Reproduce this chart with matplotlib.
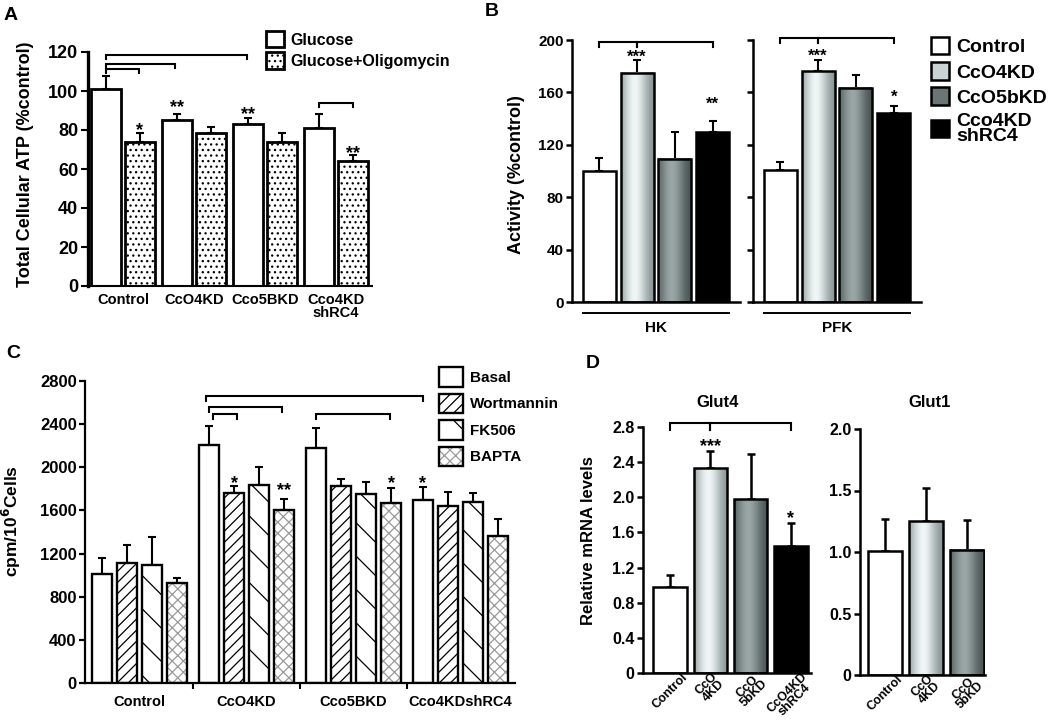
import numpy as np
import matplotlib
matplotlib.use('Agg')
import matplotlib.pyplot as plt
import matplotlib.transforms as mtransforms
from matplotlib.patches import Patch
from matplotlib.colors import LinearSegmentedColormap

plt.rcParams['font.family'] = ['Liberation Sans', 'DejaVu Sans']
plt.rcParams['font.weight'] = 'bold'
plt.rcParams['axes.labelweight'] = 'bold'
plt.rcParams['hatch.linewidth'] = 0.9

# --- A: total cellular ATP
a_groups = ['Control', 'CcO4KD', 'Cco5BKD', 'Cco4KD\nshRC4']
a_glucose = [101, 85, 83, 81]
a_glucose_err = [6.5, 3, 3, 7]
a_oligo = [74, 78.5, 74, 64]
a_oligo_err = [4.5, 3, 4.5, 3]

# --- B: HK / PFK activity
b_labels = ['Control', 'CcO4KD', 'CcO5bKD', 'Cco4KD\nshRC4']
b_hk = [100, 175, 109.5, 130]
b_hk_err = [10, 10, 20, 8.5]
b_pfk = [101, 176, 163.5, 144]
b_pfk_err = [5.5, 9, 10, 6]

# --- C: glucose uptake
c_groups = ['Control', 'CcO4KD', 'Cco5BKD', 'Cco4KDshRC4']
c_treat = ['Basal', 'Wortmannin', 'FK506', 'BAPTA']
c_basal = [1008, 2211, 2183, 1696]
c_basal_err = [148, 176, 179, 124]
c_wort = [1110, 1758, 1829, 1641]
c_wort_err = [170, 68, 61, 132]
c_fk506 = [1095, 1835, 1752, 1681]
c_fk506_err = [259, 170, 114, 77]
c_bapta = [925, 1604, 1665, 1363]
c_bapta_err = [46, 98, 145, 157]

# --- D: mRNA
d_glut4_labels = ['Control', 'CcO\n4KD', 'CcO\n5bKD', 'CcO4KD\nshRC4']
d_glut4 = [0.98, 2.33, 1.98, 1.45]
d_glut4_err = [0.13, 0.20, 0.51, 0.26]
d_glut1_labels = ['Control', 'CcO\n4KD', 'CcO\n5bKD']
d_glut1 = [1.01, 1.25, 1.02]
d_glut1_err = [0.26, 0.27, 0.24]

W, H = 1050, 722
fig = plt.figure(figsize=(W / 100, H / 100), dpi=100)


def panel(left, top, right, bottom):
    return fig.add_axes([left / W, 1 - bottom / H, (right - left) / W, (bottom - top) / H])


def style(ax, lw=1.6, lw_left=None):
    for s in ['top', 'right']:
        ax.spines[s].set_visible(False)
    ax.spines['bottom'].set_linewidth(lw)
    ax.spines['left'].set_linewidth(lw_left or lw)
    ax.tick_params(axis='y', direction='out', length=4, width=lw)
    ax.tick_params(axis='x', length=0)
    ax.patch.set_visible(False)


def errs(ax, x, vals, up, lw=1.5, cap=3):
    ax.errorbar(x, vals, yerr=[np.zeros(len(vals)), up], fmt='none', ecolor='k',
                elinewidth=lw, capsize=cap, capthick=lw, zorder=1)


def bracket(ax, x0, x1, y, h, lw=1.5):
    ax.plot([x0, x0, x1, x1], [y - h, y, y, y - h], color='k', lw=lw,
            clip_on=False, solid_joinstyle='miter', zorder=3)


def stars(ax, x, y, s, fs=13):
    ax.annotate(s, (x, y), xytext=(0, -0.6 * fs), textcoords='offset points',
                ha='center', va='baseline', fontsize=fs, fontweight='bold',
                annotation_clip=False)


light = LinearSegmentedColormap.from_list('light', ['#7f8c8c', '#f0f5f5'])
dark = LinearSegmentedColormap.from_list('dark', ['#424c4c', '#9aa6a6'])
prof = np.exp(-((np.linspace(0, 1, 64) - 0.42) / 0.38) ** 2)[None, :]


def shade(ax, bar, cmap):
    x0, w, h = bar.get_x(), bar.get_width(), bar.get_height()
    ax.imshow(prof, extent=(x0, x0 + w, 0, h), cmap=cmap, vmin=0, vmax=1,
              aspect='auto', interpolation='bilinear', zorder=1.5)


def grey_bars(ax, x, vals, width, lw):
    faces = ['white', 'none', 'none', 'black'][:len(vals)]
    bars = ax.bar(x, vals, width, color=faces, edgecolor='k', lw=lw, zorder=2)
    shade(ax, bars[1], light)
    shade(ax, bars[2], dark)
    return bars


# ================= A
axA = panel(88, 52, 372, 286)
style(axA, lw=1.5, lw_left=2.4)
xa = np.arange(len(a_groups))
gl = axA.bar(xa - 0.236, a_glucose, 0.425, color='white', edgecolor='k', lw=2.0,
             label='Glucose', zorder=2)
ol = axA.bar(xa + 0.236, a_oligo, 0.425, color='white', edgecolor='k', lw=2.0,
             hatch='...', label='Glucose+Oligomycin', zorder=2)
errs(axA, xa - 0.236, a_glucose, a_glucose_err)
errs(axA, xa + 0.236, a_oligo, a_oligo_err)
bracket(axA, -0.236, 1.745, 118.6, 2.2)
bracket(axA, -0.236, 0.73, 113.8, 2.2)
bracket(axA, -0.236, 0.226, 111.4, 2.2)
bracket(axA, 2.764, 3.236, 93.8, 2.2)
stars(axA, 0.236, 83, '*')
stars(axA, 0.764, 94.6, '**')
stars(axA, 1.764, 91.2, '**')
stars(axA, 3.236, 71, '**')
axA.set_xticks(xa, a_groups, fontsize=10.5, linespacing=0.9)
axA.tick_params(axis='x', pad=5)
axA.set_yticks(np.arange(0, 121, 20))
axA.tick_params(axis='y', labelsize=13, pad=2, length=5)
axA.set_ylabel('Total Cellular ATP (%control)', fontsize=13)
axA.yaxis.set_label_coords(-0.19, 0.52)
axA.set_xlim(-0.495, 3.51)
axA.set_ylim(0, 120)
axA.legend(handles=[gl, ol], loc='upper left', bbox_to_anchor=(266 / W, 1 - 31 / H),
           bbox_transform=fig.transFigure, frameon=False, fontsize=11.5,
           handlelength=1.15, handleheight=1.2, handletextpad=0.35,
           labelspacing=0.3, borderpad=0, borderaxespad=0)

# ================= B
xb = np.arange(4)
axHK = panel(572, 40, 740, 302)
axPFK = panel(753, 40, 921, 302)
for ax, vals, up, name in [(axHK, b_hk, b_hk_err, 'HK'), (axPFK, b_pfk, b_pfk_err, 'PFK')]:
    style(ax, lw=1.8)
    grey_bars(ax, xb, vals, 0.87, 1.8)
    errs(ax, xb, vals, up)
    ax.set_xticks([])
    ax.set_yticks(np.arange(0, 201, 40))
    ax.tick_params(axis='y', labelsize=11, pad=2)
    bt = mtransforms.blended_transform_factory(ax.transData, ax.transAxes)
    ax.plot([-0.435, 3.435], [-0.042, -0.042], color='k', lw=1.4,
            transform=bt, clip_on=False)
    ax.text(1.5, -0.1, name, transform=bt, ha='center', va='center', fontsize=11)
    ax.set_xlim(-0.72, 3.72)
    ax.set_ylim(0, 200)
axPFK.set_yticklabels([])
axHK.set_ylabel('Activity (%control)', fontsize=13)
axHK.yaxis.set_label_coords(-0.28, 0.485)
bracket(axHK, 0, 1, 198.5, 4)
bracket(axHK, 1, 3, 198.5, 4)
bracket(axPFK, 0, 1, 201.5, 4)
bracket(axPFK, 1, 3, 201.5, 4)
stars(axHK, 1, 191, '***', fs=12)
stars(axPFK, 1, 192, '***', fs=12)
stars(axHK, 3, 155.5, '**', fs=12)
stars(axPFK, 3, 160.5, '*', fs=12)
b_handles = [Patch(facecolor=c, edgecolor='k', lw=1.8)
             for c in ['white', '#c9d3d3', '#6b7575', 'black']]
leg = axPFK.legend(b_handles, b_labels, loc='upper left', bbox_to_anchor=(931 / W, 1 - 37 / H),
                   bbox_transform=fig.transFigure, frameon=False, fontsize=14,
                   handlelength=0.95, handleheight=1.0, handletextpad=0.35,
                   labelspacing=0.3, borderpad=0, borderaxespad=0)
leg.get_texts()[3].set_linespacing(0.85)

# ================= C
axC = panel(85, 381, 515, 683)
style(axC, lw=1.6)
xc = np.arange(len(c_groups))
offs = (np.arange(4) - 1.5) * 0.234
cw = 0.19
c_vals = [c_basal, c_wort, c_fk506, c_bapta]
c_errs = [c_basal_err, c_wort_err, c_fk506_err, c_bapta_err]
h_basal = axC.bar(xc + offs[0], c_basal, cw, color='white', edgecolor='k', lw=1.7, zorder=2)
h_wort = axC.bar(xc + offs[1], c_wort, cw, color='white', edgecolor='k', lw=1.7,
                 hatch='///', zorder=2)
h_fk = axC.bar(xc + offs[2], c_fk506, cw, color='white', edgecolor='k', lw=1.7,
               hatch='\\', zorder=2)
h_bap_fill = axC.bar(xc + offs[3], c_bapta, cw, color='white', edgecolor='#9a9a9a', lw=0,
                     hatch='xxx', zorder=1.8)
h_bap = axC.bar(xc + offs[3], c_bapta, cw, color='none', edgecolor='k', lw=1.7, zorder=2)
for k in range(4):
    errs(axC, xc + offs[k], c_vals[k], c_errs[k])
bracket(axC, 0.623, 2.647, 2661, 50)
bracket(axC, 0.646, 1.33, 2559, 50)
bracket(axC, 0.682, 0.914, 2498, 50)
bracket(axC, 1.647, 2.342, 2498, 50)
stars(axC, 0.883, 1911, '*')
stars(axC, 1.351, 1843, '**')
stars(axC, 2.351, 1911, '*')
stars(axC, 2.649, 1911, '*')
axC.set_xticks(xc, c_groups, fontsize=10.5)
axC.set_xticks([0.5, 1.5, 2.5], minor=True)
axC.tick_params(axis='x', which='minor', direction='out', length=4, width=1.5)
axC.tick_params(axis='x', which='major', pad=9)
axC.set_yticks(np.arange(0, 2801, 400))
axC.tick_params(axis='y', labelsize=12, pad=2)
axC.set_ylabel('cpm/10$^{\\mathbf{6}}$Cells', fontsize=12.5)
axC.yaxis.set_label_coords(-0.145, 0.536)
axC.set_xlim(-0.51, 3.51)
axC.set_ylim(0, 2800)
axC.legend([h_basal, h_wort, h_fk, (h_bap_fill, h_bap)], c_treat, loc='upper left',
           bbox_to_anchor=(439 / W, 1 - 367 / H), bbox_transform=fig.transFigure,
           frameon=False, fontsize=11, handlelength=1.6, handleheight=1.6,
           handletextpad=0.4, labelspacing=0.45, borderpad=0, borderaxespad=0)

# ================= D
ax4 = panel(643, 427, 811, 673)
ax1 = panel(860, 429, 985, 675)
for ax, vals, up, labels, top, step in [(ax4, d_glut4, d_glut4_err, d_glut4_labels, 2.8, 0.4),
                                         (ax1, d_glut1, d_glut1_err, d_glut1_labels, 2.0, 0.5)]:
    style(ax, lw=1.8)
    x = np.arange(len(vals))
    grey_bars(ax, x, vals, 0.83, 1.8)
    errs(ax, x, vals, up, lw=1.8)
    ax.set_xticks(x)
    ax.set_xticklabels(labels, rotation=45, ha='center', va='top', fontsize=9,
                       multialignment='center', linespacing=0.75)
    ax.tick_params(axis='x', pad=-1.5)
    ticks = np.arange(0, top + 1e-6, step)
    ax.set_yticks(ticks, ['0'] + ['%.1f' % t for t in ticks[1:]])
    ax.tick_params(axis='y', labelsize=11.5, pad=2)
    ax.set_ylim(0, top)
ax4.set_xlim(-0.67, 3.5)
ax1.set_xlim(-0.62, 2.45)
ax4.set_ylabel('Relative mRNA levels', fontsize=12)
ax4.yaxis.set_label_coords(-0.28, 0.54)
ax4.text(0.446, 1.098, 'Glut4', transform=ax4.transAxes, ha='center', va='center', fontsize=12)
ax1.text(0.56, 1.106, 'Glut1', transform=ax1.transAxes, ha='center', va='center', fontsize=12)
bracket(ax4, 0, 1, 2.84, 0.07)
bracket(ax4, 1, 3, 2.84, 0.07)
stars(ax4, 1, 2.65, '***')
stars(ax4, 3, 1.835, '*')

# panel letters
for s, px, py in [('A', 11, 16), ('B', 492, 12), ('C', 13, 353), ('D', 593, 364)]:
    fig.text(px / W, 1 - py / H, s, fontsize=14, fontweight='bold', ha='center', va='center')

fig.savefig('out.png', dpi=100)
